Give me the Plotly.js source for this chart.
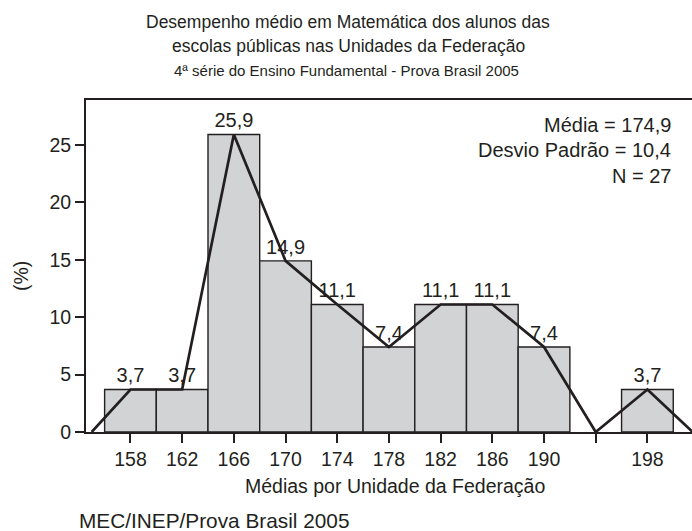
<!DOCTYPE html>
<html>
<head>
<meta charset="utf-8">
<script src="https://cdn.plot.ly/plotly-3.0.1.min.js"></script>
<style>html,body{margin:0;padding:0;background:#fff;}#chart{width:692px;height:531px;}</style>
</head>
<body>
<div id="chart"></div>
<script>
// Histogram bins (centers) and percentages
var binCenters = [158, 162, 166, 170, 174, 178, 182, 186, 190, 198];
var binPercent = [3.7, 3.7, 25.9, 14.9, 11.1, 7.4, 11.1, 11.1, 7.4, 3.7];
// Frequency polygon
var polyX = [155, 158, 162, 166, 170, 174, 178, 182, 186, 190, 194, 198, 201.5];
var polyY = [0, 3.7, 3.7, 25.9, 14.9, 11.1, 7.4, 11.1, 11.1, 7.4, 0, 3.7, 0];
// Axis ticks
var xTickVals = [158, 162, 166, 170, 174, 178, 182, 186, 190, 194, 198];
var xTickText = ["158", "162", "166", "170", "174", "178", "182", "186", "190", "", "198"];
var yTickVals = [0, 5, 10, 15, 20, 25];
// Texts
var titleLine1 = "Desempenho médio em Matemática dos alunos das";
var titleLine2 = "escolas públicas nas Unidades da Federação";
var titleLine3 = "4ª série do Ensino Fundamental - Prova Brasil 2005";
var statsLines = ["Média = 174,9", "Desvio Padrão = 10,4", "N = 27"];
var xTitle = "Médias por Unidade da Federação";
var yTitle = "(%)";
var sourceText = "MEC/INEP/Prova Brasil 2005";

var ink = "#231f20";
var FONT = "Liberation Sans, Arial, sans-serif";

var fmt = function(v){ return v.toFixed(1).replace('.', ','); };

var bars = {
  type: 'bar',
  x: binCenters,
  y: binPercent,
  width: 4,
  marker: {color: '#d1d3d4', line: {color: ink, width: 1.4}},
  text: binPercent.map(fmt),
  textposition: 'outside',
  textfont: {family: FONT, size: 20, color: ink},
  cliponaxis: false,
  hoverinfo: 'skip'
};
var poly = {
  type: 'scatter',
  mode: 'lines',
  x: polyX,
  y: polyY,
  line: {color: ink, width: 2.7},
  hoverinfo: 'skip'
};

var W = 692, H = 531, L = 86, T = 100, B = 99, R = 0;
var pw = W - L - R, ph = H - T - B;
function px(x){ return (x - L) / pw; }
function py(y){ return (H - B - y) / ph; }

var ann = [];
ann.push({text: titleLine1, x: px(348), xref: 'paper', y: py(22), yref: 'paper', xanchor: 'center', yanchor: 'middle', showarrow: false, font: {family: FONT, size: 17.5, color: ink}});
ann.push({text: titleLine2, x: px(348), xref: 'paper', y: py(46), yref: 'paper', xanchor: 'center', yanchor: 'middle', showarrow: false, font: {family: FONT, size: 17.5, color: ink}});
ann.push({text: titleLine3, x: px(346), xref: 'paper', y: py(70), yref: 'paper', xanchor: 'center', yanchor: 'middle', showarrow: false, font: {family: FONT, size: 15, color: ink}});
var statY = [125, 150, 176];
statsLines.forEach(function(s, i){
  ann.push({text: s, x: px(673), xref: 'paper', y: py(statY[i]), yref: 'paper', xanchor: 'right', yanchor: 'middle', showarrow: false, font: {family: FONT, size: 20, color: ink}});
});
ann.push({text: xTitle, x: px(395), xref: 'paper', y: py(486), yref: 'paper', xanchor: 'center', yanchor: 'middle', showarrow: false, font: {family: FONT, size: 19.5, color: ink}});
ann.push({text: yTitle, x: px(21), xref: 'paper', y: py(276), yref: 'paper', xanchor: 'center', yanchor: 'middle', textangle: -90, showarrow: false, font: {family: FONT, size: 19.5, color: ink}});
ann.push({text: sourceText, x: px(77), xref: 'paper', y: py(520), yref: 'paper', xanchor: 'left', yanchor: 'middle', showarrow: false, font: {family: FONT, size: 20.8, color: ink}});

var layout = {
  width: W, height: H,
  margin: {l: L, r: R, t: T, b: B, pad: 0},
  paper_bgcolor: '#ffffff',
  plot_bgcolor: '#ffffff',
  showlegend: false,
  bargap: 0,
  font: {family: FONT, size: 19.5, color: ink},
  xaxis: {
    range: [154.56, 201.45],
    tickmode: 'array', tickvals: xTickVals, ticktext: xTickText,
    ticks: 'outside', ticklen: 9, tickwidth: 2, tickcolor: ink,
    showline: true, linecolor: ink, linewidth: 2, mirror: true,
    showgrid: false, zeroline: false,
    tickfont: {family: FONT, size: 19.5, color: ink},
    fixedrange: true
  },
  yaxis: {
    range: [0, 28.9],
    tickmode: 'array', tickvals: yTickVals,
    ticks: 'outside', ticklen: 9, tickwidth: 2, tickcolor: ink,
    showline: true, linecolor: ink, linewidth: 2,
    showgrid: false, zeroline: false,
    tickfont: {family: FONT, size: 19.5, color: ink},
    fixedrange: true
  },
  annotations: ann
};

Plotly.newPlot('chart', [bars, poly], layout, {staticPlot: true, displayModeBar: false});
</script>
</body>
</html>
